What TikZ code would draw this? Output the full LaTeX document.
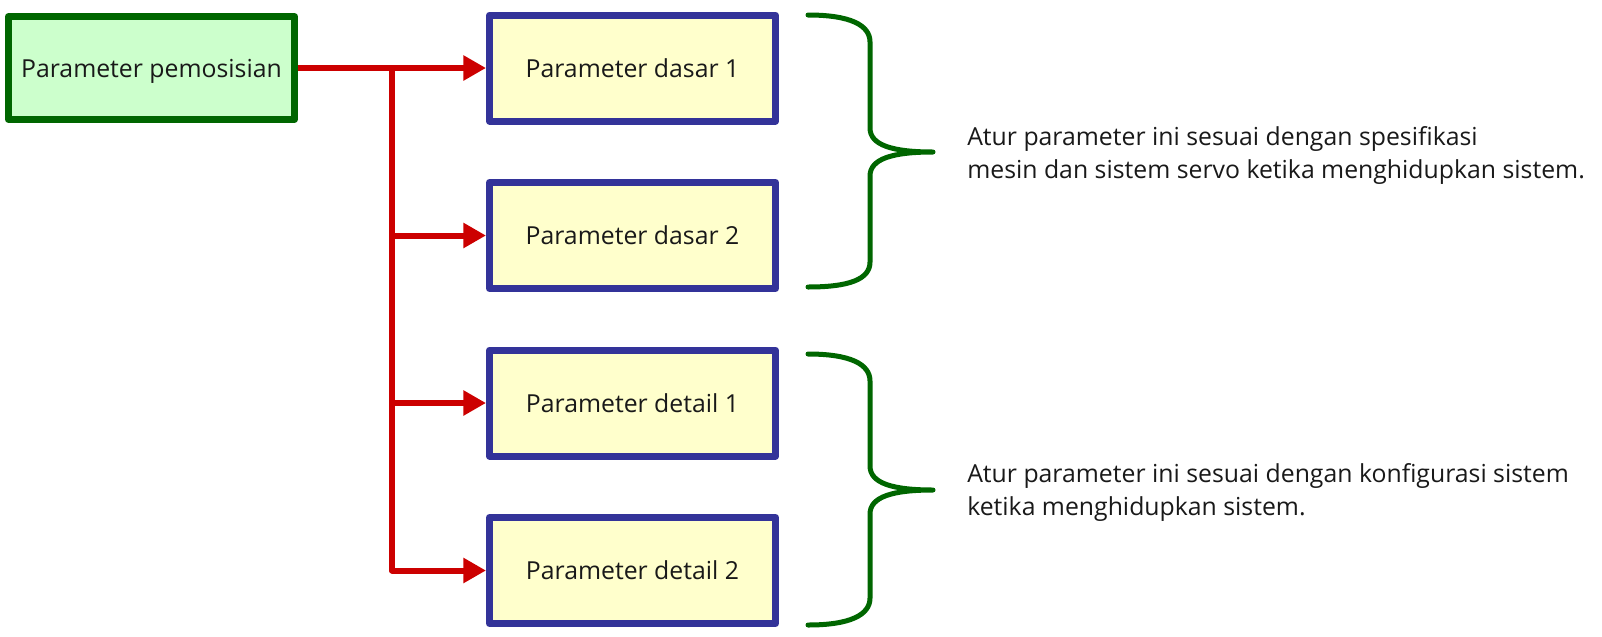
\documentclass[tikz,border=0pt]{standalone}
\usepackage{fontspec}
\setmainfont{Open Sans}
\usetikzlibrary{positioning,arrows.meta}

\definecolor{boxgreen}{RGB}{0,102,0}
\definecolor{fillgreen}{RGB}{204,255,204}
\definecolor{boxblue}{RGB}{51,51,153}
\definecolor{fillyellow}{RGB}{255,255,204}
\definecolor{linkred}{RGB}{204,0,0}
\definecolor{inkgray}{RGB}{25,25,25}

\tikzset{
  srcbox/.style={draw=boxgreen, fill=fillgreen, line width=5.25pt, line join=round,
    minimum width=214.5pt, minimum height=77pt, inner sep=0pt, text=inkgray,
    text depth=0pt, font=\fontsize{18.6}{22}\selectfont},
  parbox/.style={draw=boxblue, fill=fillyellow, line width=5.25pt, line join=round,
    minimum width=214.5pt, minimum height=79.5pt, inner sep=0pt, text=inkgray,
    text depth=0pt, font=\fontsize{18.6}{22}\selectfont},
  link/.style={draw=linkred, line width=4.5pt, line join=round},
  linkarr/.style={link, -{Triangle[length=17pt,width=18pt]}},
  brace/.style={draw=boxgreen, line width=3.75pt, line cap=round, line join=round},
  note/.style={anchor=west, align=left, inner sep=0pt, text=inkgray,
    font=\fontsize{18.6}{24.75}\selectfont}
}

\begin{document}
\begin{tikzpicture}[x=0.75pt,y=0.75pt,yscale=-1,xscale=1]
\useasboundingbox (0,0) rectangle (1602,636);

% boxes
\node[srcbox] (src) at (151.5,68) {Parameter pemosisian};
\node[parbox] (base1) at (632.5,68) {Parameter dasar 1};
\node[parbox] (base2) at (632.5,235.5) {Parameter dasar 2};
\node[parbox] (det1) at (632.5,403) {Parameter detail 1};
\node[parbox] (det2) at (632.5,570.5) {Parameter detail 2};

% red connectors
\coordinate (fork) at (392,68);
\draw[linkarr] (src) -- (base1);
\draw[linkarr] (fork) |- (det2);
\draw[linkarr] (fork |- base2) -- (base2);
\draw[linkarr] (fork |- det1) -- (det1);

% braces
\draw[brace] (808,15) .. controls (850,15) and (870,25) .. (870,42) -- (870,128)
  .. controls (870,145) and (892,152) .. (933,152)
  .. controls (892,152) and (870,159) .. (870,176) -- (870,262)
  .. controls (870,279) and (850,287) .. (808,287);
\draw[brace] (808,354) .. controls (850,354) and (870,364) .. (870,381) -- (870,466)
  .. controls (870,483) and (892,490) .. (933,490)
  .. controls (892,490) and (870,497) .. (870,514) -- (870,598)
  .. controls (870,615) and (850,625) .. (808,625);

% notes
\node[note] (note1) at (967,155) {Atur parameter ini sesuai dengan spesifikasi\\mesin dan sistem servo ketika menghidupkan sistem.};
\node[note] (note2) at (967,492) {Atur parameter ini sesuai dengan konfigurasi sistem\\ketika menghidupkan sistem.};

\end{tikzpicture}
\end{document}
